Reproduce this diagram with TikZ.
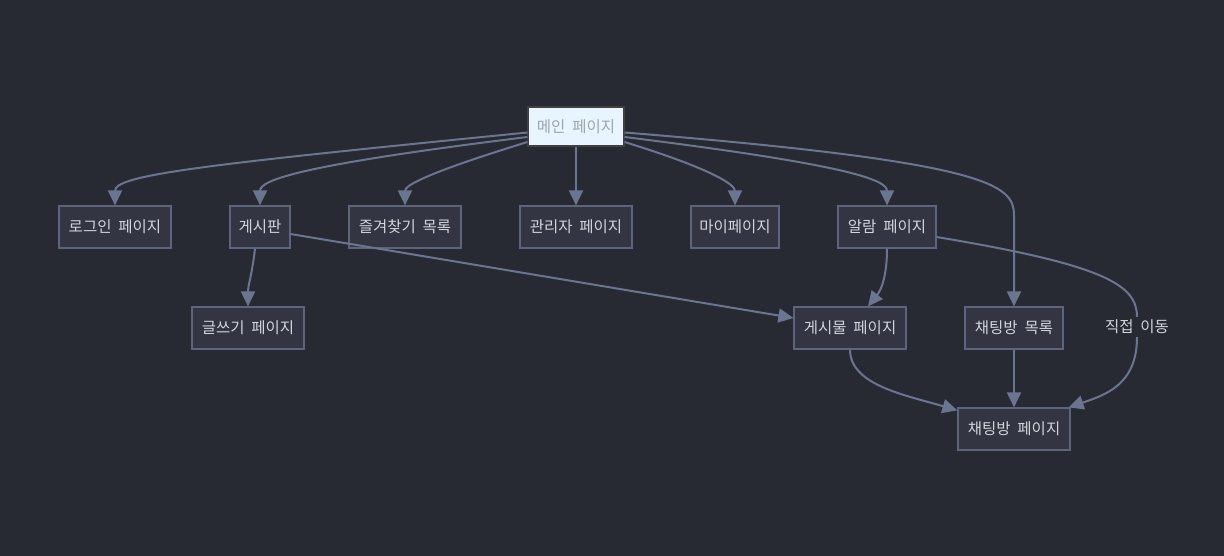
\documentclass[tikz,border=0pt]{standalone}
\usepackage{fontspec}
\setmainfont{Noto Sans CJK KR}
\usepackage{xcolor}
\usetikzlibrary{arrows.meta, positioning}

\definecolor{bgdark}{HTML}{272A33}
\definecolor{boxfill}{HTML}{333642}
\definecolor{boxline}{HTML}{5D657C}
\definecolor{edgecol}{HTML}{6B7590}
\definecolor{txtcol}{HTML}{D2D5DC}
\definecolor{mainfill}{HTML}{E8F4FF}
\definecolor{maintxt}{HTML}{9EA4AE}

\begin{document}
\begin{tikzpicture}[
        x=1pt, y=-1pt,
        every node/.style={font=\fontsize{15.5}{18}\selectfont, text=txtcol},
        page/.style={draw=boxline, fill=boxfill, line width=1.2pt, minimum height=42pt, inner sep=0pt, align=center},
        link/.style={-{Triangle[length=15pt, width=14pt]}, draw=edgecol, line width=2pt},
    ]

    %% Background
    \fill[bgdark] (0,0) rectangle (1224,556);
    \useasboundingbox (0,0) rectangle (1224,556);

    %% Main page
    \node[page, fill=mainfill, draw=black!75, text=maintxt, minimum width=96pt, minimum height=39pt] (main) at (576,126.5) {메인\ \ 페이지};

    %% First row
    \node[page, minimum width=112pt] (login) at (115,227) {로그인\ \ 페이지};
    \node[page, minimum width=60pt] (board) at (260,227) {게시판};
    \node[page, minimum width=112pt] (fav) at (405,227) {즐겨찾기\ \ 목록};
    \node[page, minimum width=112pt] (admin) at (576,227) {관리자\ \ 페이지};
    \node[page, minimum width=88pt] (mypage) at (735,227) {마이페이지};
    \node[page, minimum width=98pt] (alarm) at (887,227) {알람\ \ 페이지};

    %% Second row
    \node[page, minimum width=112pt] (write) at (248,328) {글쓰기\ \ 페이지};
    \node[page, minimum width=112pt] (post) at (850,328) {게시물\ \ 페이지};
    \node[page, minimum width=98pt] (chatlist) at (1014,328) {채팅방\ \ 목록};

    %% Third row
    \node[page, minimum width=112pt] (chat) at (1014,429) {채팅방\ \ 페이지};

    %% Edge label
    \node[fill=bgdark, inner sep=3pt] (direct) at (1137,327) {직접\ \ 이동};

    %% From main page
    \draw[link] ([yshift=-6pt]main.west) .. controls (200,165) and (115,175) .. (login.north);
    \draw[link] ([yshift=-10.5pt]main.west) .. controls (300,165) and (260,180) .. (board.north);
    \draw[link] ([yshift=-15.5pt]main.west) .. controls (430,172) and (405,185) .. (fav.north);
    \draw[link] (main.south) -- (admin.north);
    \draw[link] ([yshift=-15.5pt]main.east) .. controls (715,170) and (735,185) .. (mypage.north);
    \draw[link] ([yshift=-10.5pt]main.east) .. controls (850,165) and (887,180) .. (alarm.north);
    \draw[link] ([yshift=-6pt]main.east) .. controls (990,162) and (1014,185) .. (1014,215) -- (chatlist.north);

    %% From board
    \draw[link] ([xshift=-5pt]board.south) .. controls (252,275) and (248,285) .. (write.north);
    \draw[link] ([yshift=-7pt]board.east) -- ([yshift=10pt]post.west);

    %% From alarm
    \draw[link] (alarm.south) .. controls (887,285) and (877,295) .. ([xshift=18pt]post.north);
    \draw[link] ([yshift=-10pt]alarm.east) .. controls (1105,265) and (1137,285) .. (direct.north)
        (direct.south) .. controls (1137,385) and (1105,395) .. ([xshift=-2pt]chat.north east);

    %% Into chat page
    \draw[link] (post.south) .. controls (850,385) and (905,395) .. ([yshift=-3pt]chat.north west);
    \draw[link] (chatlist.south) -- (chat.north);

\end{tikzpicture}
\end{document}
